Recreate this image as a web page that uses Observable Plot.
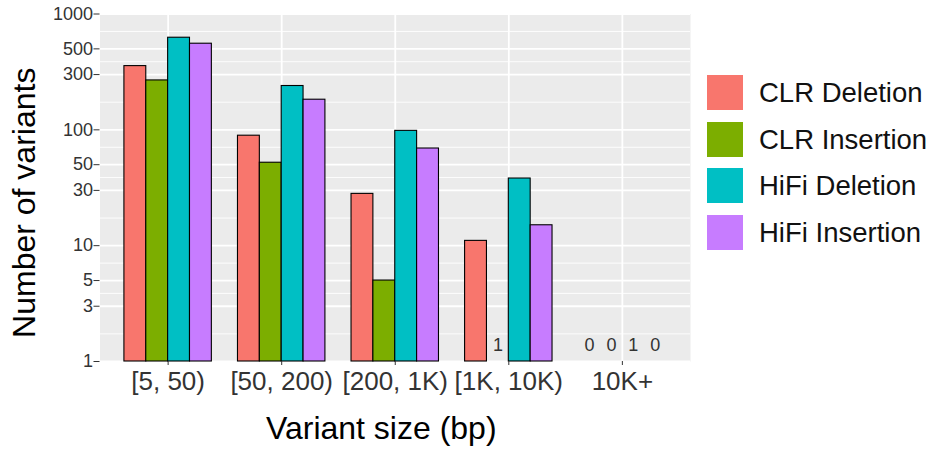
<!DOCTYPE html>
<html>
<head>
<meta charset="utf-8">
<script src="https://cdn.jsdelivr.net/npm/d3@7"></script>
<script src="https://cdn.jsdelivr.net/npm/@observablehq/plot@0.6"></script>
<style>
  html, body { margin: 0; padding: 0; background: #fff; }
  #chart { position: relative; width: 933px; height: 450px; font-family: "Liberation Sans", Arial, Helvetica, sans-serif; }
  #chart svg { position: absolute; left: 0; top: 0; }
  #legend { position: absolute; left: 707px; top: 75px; }
  .item { position: absolute; left: 0; height: 35px; display: flex; align-items: center; white-space: nowrap; }
  .sw { width: 36px; height: 35px; margin-right: 16px; }
  .lab { font-size: 27.5px; color: #111; line-height: 35px; }
</style>
</head>
<body>
<div id="chart"></div>
<script>
// ---- data ----
const categories = ["[5, 50)", "[50, 200)", "[200, 1K)", "[1K, 10K)", "10K+"];
const series = ["CLR Deletion", "CLR Insertion", "HiFi Deletion", "HiFi Insertion"];
const clrDeletion   = [355, 89, 28, 11, 0];
const clrInsertion  = [267, 52, 5, 1, 0];
const hifiDeletion  = [624, 239, 98, 38, 1];
const hifiInsertion = [554, 182, 69, 15, 0];
const yTicks = [1, 3, 5, 10, 30, 50, 100, 300, 500, 1000];
const colors = ["#F8766D", "#7CAE00", "#00BFC4", "#C77CFF"];

const values = [clrDeletion, clrInsertion, hifiDeletion, hifiInsertion];
const groupWidth = 0.77;
const barW = groupWidth / series.length;
const rows = categories.flatMap((c, i) => series.map((s, j) => {
  const x1 = (i + 1) - groupWidth / 2 + j * barW;
  return {category: c, series: s, value: values[j][i], x1, x2: x1 + barW, xm: x1 + barW / 2};
}));
const minorTicks = yTicks.slice(1).map((t, k) => Math.sqrt(t * yTicks[k]));
const catIdx = categories.map((c, i) => i + 1);

const plot = Plot.plot({
  width: 933,
  height: 450,
  marginLeft: 99.5,
  marginRight: 243,
  marginTop: 13.5,
  marginBottom: 89,
  style: {fontFamily: '"Liberation Sans", Arial, Helvetica, sans-serif', color: "#333", background: "transparent"},
  x: {domain: [0.4, 5.6]},
  y: {type: "log", domain: [1, 1000]},
  color: {domain: series, range: colors},
  marks: [
    Plot.frame({fill: "#EBEBEB", stroke: "none"}),
    Plot.ruleY(minorTicks, {stroke: "white", strokeWidth: 0.9}),
    Plot.ruleY(yTicks, {stroke: "white", strokeWidth: 1.8}),
    Plot.ruleX(catIdx, {stroke: "white", strokeWidth: 1.8}),
    Plot.rect(rows.filter(d => d.value > 1), {
      x1: "x1", x2: "x2", y1: () => 1, y2: "value",
      fill: "series", stroke: "black", strokeWidth: 1.1
    }),
    Plot.text(rows.filter(d => d.value <= 1), {
      x: "xm", y: () => 1, text: d => String(d.value),
      dy: -16, fontSize: 18, fill: "#333"
    }),
    Plot.axisY(yTicks, {tickSize: 6, text: null, label: null}),
    Plot.text(yTicks, {y: d => d, text: d => String(d), frameAnchor: "left", textAnchor: "end", lineAnchor: "middle", dx: -7, fontSize: 18, fill: "#333"}),
    Plot.axisX(catIdx, {tickFormat: i => categories[i - 1], tickSize: 4, tickPadding: 6, fontSize: 26, label: null}),
    Plot.text(["Variant size (bp)"], {text: d => d, frameAnchor: "bottom", textAnchor: "middle", lineAnchor: "middle", dx: -14, dy: 67, fontSize: 32, fill: "black"}),
    Plot.text(["Number of variants"], {text: d => d, frameAnchor: "left", textAnchor: "middle", lineAnchor: "middle", rotate: -90, dx: -75, dy: 15, fontSize: 32, fill: "black"})
  ]
});

const chart = document.getElementById("chart");
chart.appendChild(plot);

// legend built from the plot's own color scale
const cs = plot.scale("color");
const legend = document.createElement("div");
legend.id = "legend";
cs.domain.forEach((name, k) => {
  const item = document.createElement("div");
  item.className = "item";
  item.style.top = (k * 46.6) + "px";
  const sw = document.createElement("div");
  sw.className = "sw";
  sw.style.background = cs.apply(name);
  const lab = document.createElement("span");
  lab.className = "lab";
  lab.textContent = name;
  item.appendChild(sw);
  item.appendChild(lab);
  legend.appendChild(item);
});
chart.appendChild(legend);
</script>
</body>
</html>
